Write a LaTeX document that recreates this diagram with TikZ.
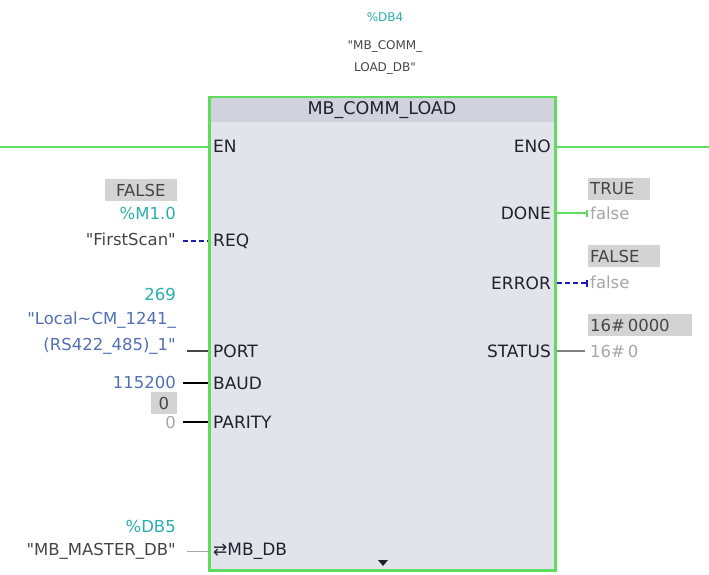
\documentclass[tikz,border=0pt]{standalone}
\usepackage{fontspec}
\setmainfont{DejaVu Sans}[Ligatures=TeXOff]
\usepackage{xcolor}
\definecolor{fbgreen}{HTML}{5EDC5E}
\definecolor{fbbody}{HTML}{E3E3EB}
\definecolor{fbhead}{HTML}{D2D2DC}
\definecolor{tealtxt}{HTML}{2AAEB0}
\definecolor{bluetxt}{HTML}{5270B2}
\definecolor{navy}{HTML}{1C1CB0}
\definecolor{pintxt}{HTML}{22222E}
\definecolor{strtxt}{HTML}{454545}
\definecolor{faint}{HTML}{A6A6A6}
\definecolor{curbox}{HTML}{D3D3D3}
\usetikzlibrary{arrows.meta,positioning}
\newcommand{\qq}{\symbol{34}}
\tikzset{
  font=\fontsize{16.5}{18}\selectfont,
  fb/.style={draw=fbgreen,line width=3pt,fill=fbbody,minimum width=346pt,
             minimum height=472pt,inner sep=0pt},
  fbtitle/.style={fill=fbhead,minimum width=343pt,minimum height=24pt,inner sep=0pt,
                  text=pintxt,font=\fontsize{17.5}{19}\selectfont},
  pin/.style={text=pintxt,inner sep=1pt,font=\fontsize{17}{19}\selectfont},
  val/.style={anchor=east,inner sep=1pt},
  rval/.style={anchor=west,inner sep=1pt},
  cur/.style={fill=curbox,text=strtxt,inner sep=1pt,minimum height=22pt},
  wire/.style={line width=1.6pt,draw=strtxt},
  bwire/.style={line width=1.8pt,draw=navy,dash pattern=on 5pt off 3pt},
  gwire/.style={line width=2.2pt,draw=fbgreen},
  bar/.style={-{Bar[width=7pt,line width=1.6pt]}},
}
\begin{document}
\begin{tikzpicture}[x=1pt,y=-1pt]
  \useasboundingbox (0,0) rectangle (709,575);
  % ---- instance DB ----
  \node[text=tealtxt,font=\fontsize{12}{14}\selectfont] (idb) at (385,17) {\%DB4};
  \node[text=strtxt,align=center,font=\fontsize{12}{22}\selectfont] (idbname) at (385,57)
    {\qq MB\_COMM\_\\LOAD\_DB\qq};

  % ---- block ----
  \node[fb] (blk) at (382,334) {};
  \node[fbtitle,anchor=north] (blkname) at ([yshift=-1.5pt]blk.north) {MB\_COMM\_LOAD};
  \fill[pintxt] (378,560) -- (388,560) -- (383,566) -- cycle;

  % ---- pins ----
  \node[pin,anchor=west] (en) at (212,146) {EN};
  \node[pin,anchor=east] (eno) at (552,146) {ENO};
  \node[pin,anchor=west] (req) at (212,241) {REQ};
  \node[pin,anchor=west] (port) at (212,351) {PORT};
  \node[pin,anchor=west] (baud) at (212,383) {BAUD};
  \node[pin,anchor=west] (parity) at (212,422) {PARITY};
  \node[pin,anchor=west] (mbdb) at (212,551) {⇄MB\_DB};
  \node[pin,anchor=east] (done) at (552,213) {DONE};
  \node[pin,anchor=east] (error) at (552,283) {ERROR};
  \node[pin,anchor=east] (status) at (552,351) {STATUS};

  % ---- power flow ----
  \coordinate (railin) at (0,147);
  \coordinate (railout) at (709,147);
  \draw[gwire] (railin) -- (blk.west |- railin);
  \draw[gwire] (blk.east |- railout) -- (railout);

  % ---- inputs ----
  \node[cur,val,minimum width=72pt,align=right] (reqcur) at (177,190) {FALSE};
  \node[val,text=tealtxt] (reqadr) at (177,213) {\%M1.0};
  \node[val,text=strtxt] (reqv) at (177,239) {\qq FirstScan\qq};
  \node[val,text=tealtxt] (porthw) at (177,294) {269};
  \node[val,text=bluetxt] (porttag) at (177,320) {\qq Local\textasciitilde CM\_1241\_};
  \node[val,text=bluetxt] (portv) at (177,346) {(RS422\_485)\_1\qq};
  \node[val,text=bluetxt] (baudv) at (177,382) {115200};
  \node[cur,val,minimum width=26pt] (paritycur) at (177,403) {0};
  \node[val,text=faint] (parityv) at (177,422) {0};
  \node[val,text=tealtxt] (mbdbadr) at (177,526) {\%DB5};
  \node[val,text=strtxt] (mbdbv) at (177,551) {\qq MB\_MASTER\_DB\qq};

  \draw[bwire,shorten <=6pt] (reqv.east |- req) -- (blk.west |- req);
  \draw[wire,shorten <=10pt] (portv.east |- port) -- (blk.west |- port);
  \draw[wire,line width=2.2pt,draw=black,shorten <=6pt] (baudv.east |- baud) -- (blk.west |- baud);
  \draw[wire,line width=2.2pt,draw=black,shorten <=6pt] (parityv.east |- parity) -- (blk.west |- parity);
  \draw[wire,line width=1pt,draw=faint,shorten <=10pt] (mbdbv.east |- mbdb) -- (blk.west |- mbdb);

  % ---- outputs ----
  \node[cur,rval,minimum width=62pt,text width=58pt,align=left] (donecur) at (588,189) {TRUE};
  \node[rval,text=faint] (donev) at (589,213) {false};
  \node[cur,rval,minimum width=72pt,text width=68pt,align=left] (errorcur) at (588,256) {FALSE};
  \node[rval,text=faint] (errorv) at (589,282) {false};
  \node[cur,rval,minimum width=104pt,text width=100pt,align=left] (statuscur) at (588,325) {16\#\,0000};
  \node[rval,text=faint] (statusv) at (589,351) {16\#\,0};

  \draw[gwire,bar,shorten >=1pt] (blk.east |- done) -- (donev.west |- done);
  \draw[bwire,bar,shorten >=1pt] (blk.east |- error) -- (errorv.west |- error);
  \draw[wire,line width=1.2pt,draw=gray,shorten >=4pt] (blk.east |- status) -- (statusv.west |- status);
\end{tikzpicture}
\end{document}
